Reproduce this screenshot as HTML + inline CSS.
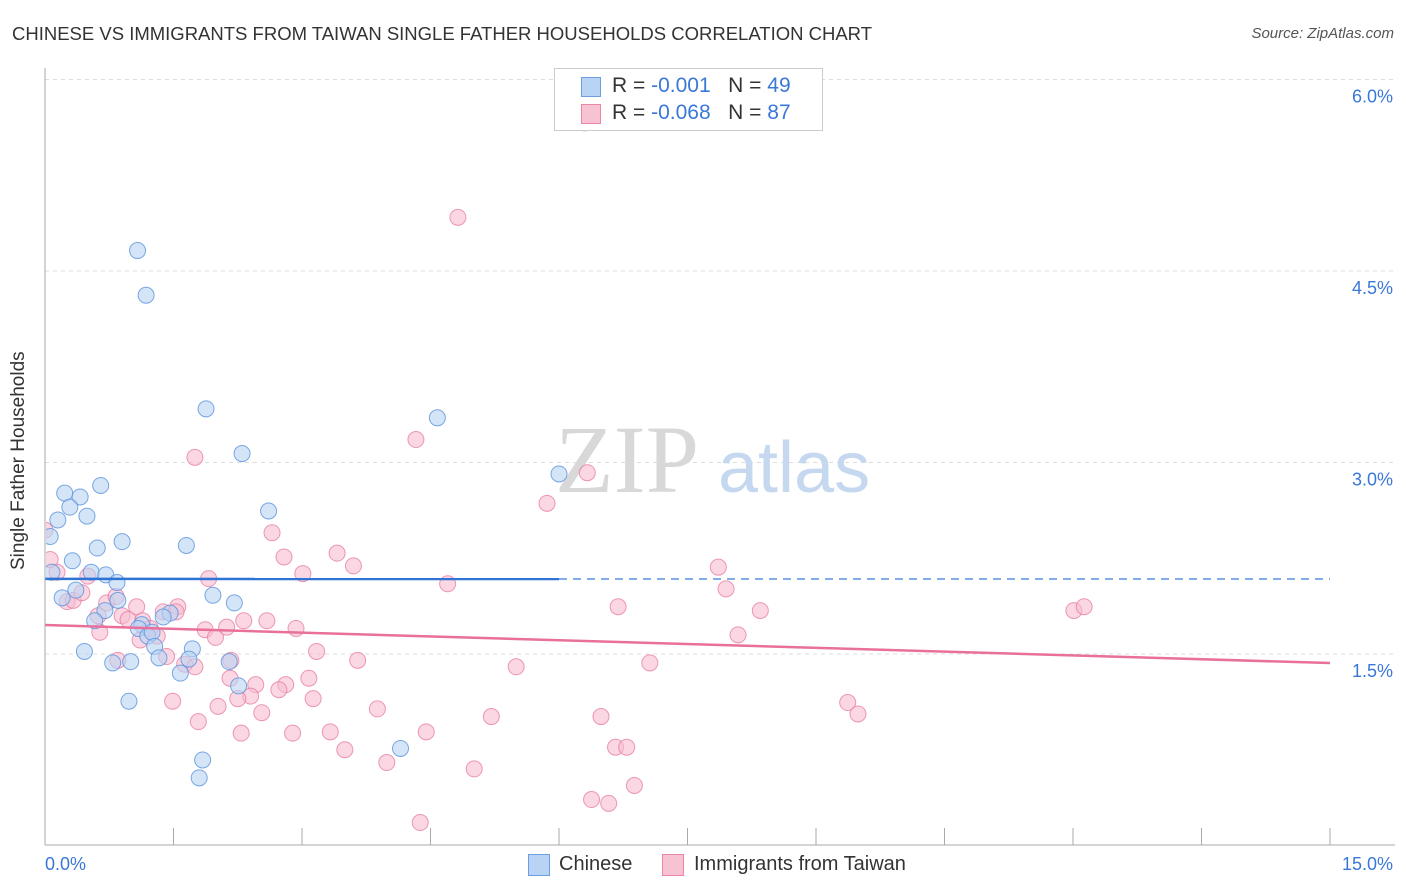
<!DOCTYPE html>
<html><head><meta charset="utf-8"><style>
body{margin:0;background:#fff;font-family:"Liberation Sans",sans-serif;}
#wrap{position:relative;width:1406px;height:892px;overflow:hidden;}
.t{position:absolute;white-space:nowrap;}
</style></head><body>
<div id="wrap">
<div class="t" style="left:12px;top:23px;font-size:18.5px;color:#333">CHINESE VS IMMIGRANTS FROM TAIWAN SINGLE FATHER HOUSEHOLDS CORRELATION CHART</div>
<div class="t" style="right:12px;top:25px;font-size:15px;color:#555;font-style:italic">Source: ZipAtlas.com</div>
<svg id="svg" width="1406" height="892" style="position:absolute;left:0;top:0">
<defs><clipPath id="cp"><rect x="46" y="60" width="1360" height="785"/></clipPath></defs>
<g id="grid"></g>
<text x="555" y="492" font-size="96" fill="#d8d8d8" font-family="Liberation Serif,serif">ZIP</text>
<text x="718" y="492" font-size="72" fill="#c5d8ef" font-family="Liberation Sans,sans-serif">atlas</text>
<g id="pts" clip-path="url(#cp)"></g>
<g id="lines"></g>
<g id="axes"></g>
</svg>
<div class="t" style="left:8px;top:570px;font-size:19px;color:#333;transform:rotate(-90deg);transform-origin:0 0">Single Father Households</div>
<div style="position:absolute;left:554px;top:68px;width:267px;height:61px;border:1px solid #ccc;background:#fff">
<div style="position:absolute;left:26px;top:8px;width:18px;height:18px;background:#b9d3f4;border:1px solid #6d9ee0"></div>
<div class="t" style="left:57px;top:5px;font-size:21px;color:#333">R = <span style="color:#3a78d8">-0.001</span> &nbsp;&nbsp;N = <span style="color:#3a78d8">49</span></div>
<div style="position:absolute;left:26px;top:35px;width:18px;height:18px;background:#f7c3d3;border:1px solid #e987a7"></div>
<div class="t" style="left:57px;top:32px;font-size:21px;color:#333">R = <span style="color:#3a78d8">-0.068</span> &nbsp;&nbsp;N = <span style="color:#3a78d8">87</span></div>
</div>
<div style="position:absolute;left:528px;top:854px;width:20px;height:20px;background:#b9d3f4;border:1px solid #6d9ee0"></div>
<div class="t" style="left:559px;top:853px;font-size:20px;color:#333">Chinese</div>
<div style="position:absolute;left:662px;top:854px;width:20px;height:20px;background:#f7c3d3;border:1px solid #e987a7"></div>
<div class="t" style="left:694px;top:853px;font-size:20px;color:#333">Immigrants from Taiwan</div>
</div>
<script>
const yTicks=[1.5,3.0,4.5,6.0];
const yTickLabels=["1.5%","3.0%","4.5%","6.0%"];
const xLabels=["0.0%","15.0%"];
const chineseX=[1.08,1.18,1.88,4.58,2.3,6.0,0.65,0.23,0.41,0.15,0.29,0.49,2.61,0.9,0.61,1.65,0.06,0.32,0.54,0.71,0.84,0.08,1.96,2.21,0.2,0.36,0.7,0.85,1.46,1.38,0.58,1.13,1.09,1.2,1.25,1.28,0.46,1.72,1.33,1.68,0.79,1.0,2.15,1.58,0.98,2.26,4.15,1.84,1.8];
const chineseY=[4.66,4.31,3.42,3.35,3.07,2.91,2.82,2.76,2.73,2.55,2.65,2.58,2.62,2.38,2.33,2.35,2.42,2.23,2.14,2.12,2.06,2.14,1.96,1.90,1.94,2.00,1.84,1.92,1.82,1.79,1.76,1.73,1.70,1.64,1.67,1.56,1.52,1.54,1.47,1.46,1.43,1.44,1.44,1.35,1.13,1.25,0.76,0.67,0.53];
const taiwanX=[6.3,4.82,4.33,1.75,6.33,5.86,2.65,2.79,3.41,3.6,7.86,3.01,1.91,4.7,7.95,6.69,8.35,12.01,12.13,0.0,0.06,0.14,0.26,0.33,0.43,0.5,0.62,0.64,0.72,0.83,0.9,0.97,1.07,1.14,1.23,1.31,1.38,1.55,1.53,1.87,1.99,2.12,2.32,2.59,2.93,3.17,3.65,5.5,7.06,8.09,1.42,1.63,2.16,2.46,2.81,2.73,3.08,1.49,2.4,2.25,2.53,3.13,2.02,1.79,2.29,2.89,3.33,3.5,3.88,4.45,5.21,6.49,6.66,6.79,9.37,9.49,3.99,5.01,6.38,6.58,6.88,4.38,1.75,2.17,1.11,0.85];
const taiwanY=[5.66,4.92,3.18,3.04,2.92,2.68,2.45,2.26,2.29,2.19,2.18,2.13,2.09,2.05,2.01,1.87,1.84,1.84,1.87,2.47,2.24,2.14,1.91,1.92,1.98,2.11,1.80,1.67,1.90,1.95,1.80,1.77,1.87,1.76,1.70,1.64,1.83,1.87,1.83,1.69,1.63,1.71,1.76,1.76,1.70,1.52,1.45,1.40,1.43,1.65,1.48,1.42,1.31,1.26,1.26,1.22,1.31,1.13,1.17,1.15,1.04,1.15,1.09,0.97,0.88,0.88,0.89,0.75,1.07,0.89,1.01,1.01,0.77,0.77,1.12,1.03,0.65,0.6,0.36,0.33,0.47,0.18,1.40,1.45,1.61,1.45];
const blueTrend=[2.088,2.087];
const pinkTrend=[1.727,1.429];
const X0=45,X1=1330,YB=845.5,YPX=127.67;
const sx=v=>X0+(X1-X0)*v/15;
const sy=v=>YB-v*YPX;
const NS="http://www.w3.org/2000/svg";
function mk(tag,attrs,parent){const e=document.createElementNS(NS,tag);for(const k in attrs)e.setAttribute(k,attrs[k]);parent.appendChild(e);return e;}
const grid=document.getElementById('grid'),axes=document.getElementById('axes'),pts=document.getElementById('pts'),lines=document.getElementById('lines');
yTicks.forEach((v,i)=>{
 const l=mk('line',{x1:45,x2:1395,y1:sy(v),y2:sy(v),stroke:'#ddd','stroke-dasharray':'4,4'},grid);
 
 
 const t=mk('text',{x:1393,y:sy(v)+23,'text-anchor':'end','font-size':18,fill:'#3a78d8'},axes);
 t.textContent=yTickLabels[i];
 
 
});
const ax=mk('line',{x1:45,x2:1395,y1:845,y2:845,stroke:'#aaa'},axes);


const ay=mk('line',{x1:45,x2:45,y1:68,y2:845,stroke:'#aaa'},axes);


for(let i=0;i<=10;i++){
 const tk=mk('line',{x1:sx(i*1.5),x2:sx(i*1.5),y1:828,y2:845,stroke:'#aaa'},axes);
 
 
}
[[0,'start',45],[15,'end',1393]].forEach((a,i)=>{
 const t=mk('text',{x:a[2],y:870,'text-anchor':a[1],'font-size':18,fill:'#3a78d8'},axes);
 t.textContent=xLabels[i];
 
 
});
function dots(xs,ys,fill,stroke,name){
 xs.forEach((x,i)=>{
  const c=mk('circle',{cx:sx(x),cy:sy(ys[i]),r:8,fill:fill,'fill-opacity':0.6,stroke:stroke,'stroke-width':1,'stroke-opacity':0.8},pts);
  
  
 });
}
dots(taiwanX,taiwanY,'#f7bcd0','#e87fa3','taiwan-point');
dots(chineseX,chineseY,'#b9d3f4','#5a92dd','chinese-point');
const bx=6.0;
const bmid=blueTrend[0]+(blueTrend[1]-blueTrend[0])*bx/15;
const b1=mk('line',{x1:sx(0),y1:sy(blueTrend[0]),x2:sx(bx),y2:sy(bmid),stroke:'#2f74d4','stroke-width':2.5},lines);


const b2=mk('line',{x1:sx(bx),y1:sy(bmid),x2:sx(15),y2:sy(blueTrend[1]),stroke:'#5a92dd','stroke-width':1.5,'stroke-dasharray':'8,6'},lines);


const p1=mk('line',{x1:sx(0),y1:sy(pinkTrend[0]),x2:sx(15),y2:sy(pinkTrend[1]),stroke:'#e8709a','stroke-width':2.5},lines);


</script>
</body></html>
